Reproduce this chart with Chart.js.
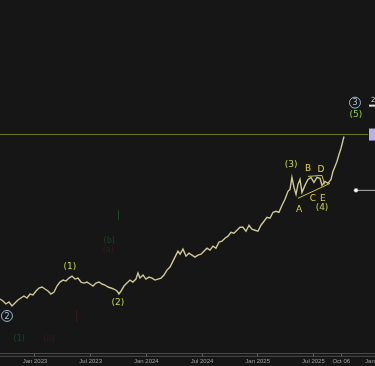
<!DOCTYPE html>
<html>
<head>
<meta charset="utf-8">
<script src="https://cdn.jsdelivr.net/npm/chart.js"></script>
<style>
  html, body { margin: 0; padding: 0; background: #161616; overflow: hidden; }
  canvas { display: block; }
</style>
</head>
<body>
<canvas id="chart" width="375" height="366"></canvas>
<script>
// x = months since Jan 2023, y = price (chart units)
const tickMonths = [0, 6, 12, 18, 24, 30, 33.0, 36.9];
const tickLabels = ['Jan 2023', 'Jul 2023', 'Jan 2024', 'Jul 2024', 'Jan 2025', 'Jul 2025', 'Oct 06', 'Jan 2026'];

const months = [
  -3.77, -3.45, -3.13, -2.80, -2.48, -2.16, -1.83, -1.51, -1.19, -0.86, -0.54, -0.22,
  0.11, 0.43, 0.75, 1.08, 1.40, 1.72, 2.05, 2.37, 2.69, 3.02, 3.34, 3.66, 3.99, 4.31,
  4.63, 4.96, 5.28, 5.60, 5.93, 6.25, 6.57, 6.90, 7.22, 7.54, 7.87, 8.19, 8.51, 8.84,
  9.05, 9.27, 9.59, 9.91, 10.24, 10.56, 10.88, 11.10, 11.31, 11.64, 11.96, 12.28, 12.61,
  12.93, 13.25, 13.58, 13.90, 14.22, 14.55, 14.87, 15.19, 15.41, 15.63, 15.95, 16.27,
  16.59, 16.92, 17.24, 17.56, 17.89, 18.21, 18.53, 18.86, 19.18, 19.50, 19.83, 20.15,
  20.47, 20.80, 21.12, 21.44, 21.77, 22.09, 22.41, 22.74, 23.06, 23.38, 23.71, 24.03,
  24.35, 24.68, 25.00, 25.32, 25.65, 25.97, 26.29, 26.62, 26.94, 27.26, 27.48, 27.69,
  27.91, 28.13, 28.34, 28.56, 28.77, 29.09, 29.42, 29.74, 30.06, 30.39, 30.71, 30.93,
  31.25, 31.57, 31.90, 32.11, 32.33, 32.54, 32.76, 32.97, 33.19, 33.30
];
const closes = [
  27.5, 26.5, 25, 26, 24, 25.5, 27, 28, 29, 28, 30, 29.5,
  31.5, 33, 33.5, 32.5, 31.5, 30, 31, 34, 36, 37, 36.5, 38, 39, 37.5,
  38, 36, 35.5, 36, 35, 34, 35.5, 36, 35, 34.5, 33.5, 33, 32.5, 31.5,
  30, 31.5, 34, 35.5, 37, 36, 37.5, 40.5, 38, 39.5, 37.5, 38.5, 38,
  37, 37.5, 38, 39.5, 42, 43.5, 46.5, 49.5, 51.5, 50, 52.5, 49,
  50.5, 49.5, 48.5, 49.5, 50, 51.5, 53, 52, 54, 53, 56, 56.5,
  58, 59, 61, 60.5, 62, 63.5, 63.5, 61.5, 64.5, 62.5, 62, 61.5,
  64.5, 66.5, 68.5, 68, 71, 71.5, 71, 74.5, 77.5, 81.5, 82.5, 88.5,
  83.5, 80, 85, 87.5, 81, 84.5, 87.5, 88.5, 86, 88.5, 88, 84.5,
  86.5, 85.5, 87.5, 91.5, 94, 96.5, 100, 103, 107, 109
];

const resistanceLevel = 110;
const triLowerX = [28.34, 31.79];
const triLowerY = [78, 85.5];
const triUpperX = [29.42, 30.93, 31.2];
const triUpperY = [89, 89.5, 85];
const markerX = [34.59, 36.64];
const markerY = [82, 82];

const waveText = ['(1)', '(2)', '(3)', 'A', 'B', 'C', 'D', 'E', '(4)', '(5)'];
const waveX = [3.77, 8.94, 27.59, 28.45, 29.42, 29.96, 30.82, 31.03, 30.93, 34.59];
const waveY = [43.5, 25.5, 95, 72.5, 93, 78, 92.5, 78, 73.5, 120];
const circleText = ['3', '2'];
const circleX = [34.48, -3.02];
const circleY = [126, 19];
// faint leftover annotations
const ghostText = ['(b)', '(a)', '(1)', '(ii)'];
const ghostX = [8.0, 7.9, -1.7, 1.5];
const ghostY = [56.5, 52, 7.5, 7];

const pts = (xs, ys) => xs.map((x, i) => ({ x: x, y: ys[i] }));

const extras = {
  id: 'extras',
  beforeDatasetsDraw(chart) {
    const { ctx } = chart;
    const x = chart.scales.x, y = chart.scales.y;
    ctx.save();
    ctx.font = '8px "DejaVu Sans"';
    ctx.textAlign = 'center';
    ctx.textBaseline = 'middle';
    ghostText.forEach((t, i) => {
      ctx.fillStyle = i % 2 ? 'rgba(110,20,30,0.55)' : 'rgba(30,110,50,0.55)';
      ctx.fillText(t, x.getPixelForValue(ghostX[i]), y.getPixelForValue(ghostY[i]));
    });
    ctx.strokeStyle = 'rgba(110,20,30,0.6)';
    ctx.beginPath();
    ctx.moveTo(x.getPixelForValue(4.5), y.getPixelForValue(22));
    ctx.lineTo(x.getPixelForValue(4.5), y.getPixelForValue(16));
    ctx.stroke();
    ctx.strokeStyle = 'rgba(30,110,50,0.6)';
    ctx.beginPath();
    ctx.moveTo(x.getPixelForValue(9), y.getPixelForValue(72));
    ctx.lineTo(x.getPixelForValue(9), y.getPixelForValue(67));
    ctx.stroke();
    ctx.restore();
  },
  afterDatasetsDraw(chart) {
    const { ctx, chartArea } = chart;
    const x = chart.scales.x, y = chart.scales.y;
    ctx.save();
    // second axis line
    ctx.strokeStyle = '#4a4a4a';
    ctx.lineWidth = 1;
    ctx.beginPath();
    ctx.moveTo(0, chartArea.bottom + 2.5);
    ctx.lineTo(chart.width, chartArea.bottom + 2.5);
    ctx.stroke();

    ctx.textAlign = 'center';
    ctx.textBaseline = 'middle';
    ctx.font = '9px "DejaVu Sans"';
    waveText.forEach((t, i) => {
      const letter = t.length === 1;
      ctx.fillStyle = letter ? '#ddd33c' : (t === '(5)' ? '#8fcf4c' : '#c3d548');
      ctx.fillText(t, x.getPixelForValue(waveX[i]), y.getPixelForValue(waveY[i]));
    });
    circleText.forEach((t, i) => {
      const cx = x.getPixelForValue(circleX[i]), cy = y.getPixelForValue(circleY[i]);
      ctx.strokeStyle = '#9ab8cc';
      ctx.lineWidth = 1;
      ctx.beginPath();
      ctx.arc(cx, cy, 5.5, 0, Math.PI * 2);
      ctx.stroke();
      ctx.fillStyle = '#a9c6d8';
      ctx.font = '8px "DejaVu Sans"';
      ctx.fillText(t, cx, cy + 0.5);
    });
    // price tag at right edge
    const ty = y.getPixelForValue(resistanceLevel);
    ctx.fillStyle = '#b9b1e4';
    ctx.fillRect(chart.width - 6, ty - 6, 6, 12);
    ctx.fillStyle = '#ddd';
    ctx.font = '7px "DejaVu Sans"';
    ctx.textAlign = 'left';
    ctx.fillText('2', chart.width - 4, y.getPixelForValue(127));
    ctx.fillRect(chart.width - 6, y.getPixelForValue(125), 6, 2);
    ctx.restore();
  }
};

new Chart(document.getElementById('chart'), {
  type: 'line',
  data: {
    datasets: [
      {
        data: pts(months, closes),
        borderColor: '#d0c896',
        borderWidth: 1.4,
        pointRadius: 0,
        tension: 0
      },
      {
        data: pts([-3.77, 35.9], [resistanceLevel, resistanceLevel]),
        borderColor: 'rgba(115,130,45,0.9)',
        borderWidth: 1,
        pointRadius: 0
      },
      {
        data: pts(triLowerX, triLowerY),
        borderColor: '#cfc53a',
        borderWidth: 1,
        pointRadius: 0
      },
      {
        data: pts(triUpperX, triUpperY),
        borderColor: '#cfc53a',
        borderWidth: 1,
        pointRadius: 0
      },
      {
        data: pts(markerX, markerY),
        borderColor: '#b5b5b5',
        borderWidth: 1,
        pointRadius: [2, 0],
        pointBackgroundColor: '#ffffff',
        pointBorderColor: '#999',
        pointBorderWidth: 0.5
      }
    ]
  },
  options: {
    responsive: false,
    animation: false,
    devicePixelRatio: 1,
    layout: { padding: 0, autoPadding: false },
    plugins: { legend: { display: false }, tooltip: { enabled: false } },
    scales: {
      x: {
        type: 'linear',
        min: -3.77,
        max: 36.64,
        afterBuildTicks: s => { s.ticks = tickMonths.map(v => ({ value: v })); },
        afterFit: s => { s.paddingLeft = 0; s.paddingRight = 0; },
        ticks: {
          autoSkip: false,
          maxRotation: 0,
          padding: 1,
          color: '#a0a0a0',
          font: { size: 6, family: 'Liberation Sans' },
          callback: (v, i) => tickLabels[i]
        },
        grid: { drawOnChartArea: false, tickLength: 3, color: '#666' },
        border: { color: '#4a4a4a' }
      },
      y: {
        display: false,
        min: 0,
        max: 177.5
      }
    }
  },
  plugins: [extras]
});
</script>
</body>
</html>
